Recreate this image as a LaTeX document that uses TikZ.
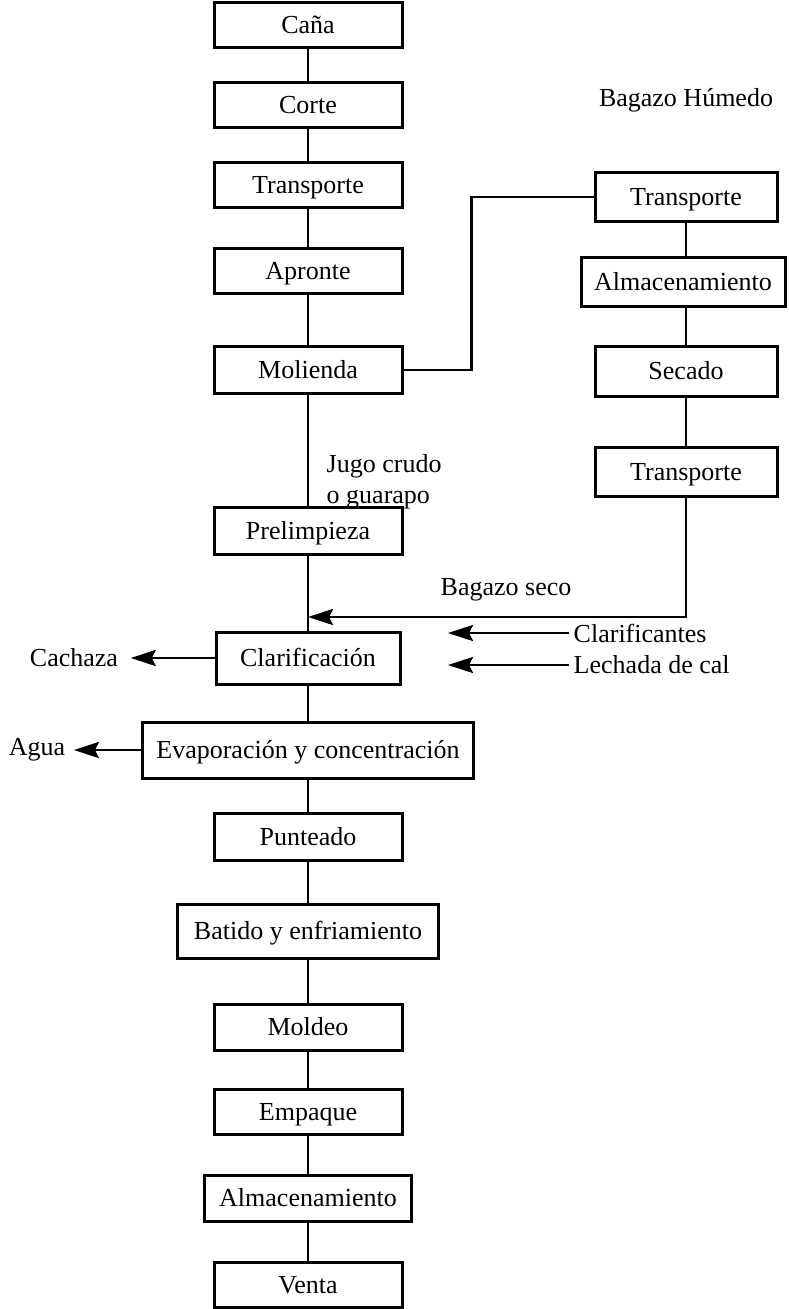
\documentclass[tikz,border=0pt]{standalone}
\usepackage{fontspec}
\setmainfont{Liberation Serif}
\usetikzlibrary{arrows.meta,positioning}

\begin{document}
\begin{tikzpicture}[%
        x=1pt, y=1pt,
        >={Stealth[length=25pt,width=16pt,inset=4pt]},
        node distance=86pt,
        on grid,
        line width=2.8pt,
        font=\fontsize{26}{31}\selectfont,
        box/.style={draw, line width=3pt, minimum width=188pt, minimum height=45pt,
                    inner sep=0pt, text height=18pt, text depth=1.5pt}
        ]

        \useasboundingbox (0,0) rectangle (788,-1309);

        % main line
        \node[box] (1) at (308,-25) {Caña};
        \node[box] (2) [below=80pt of 1] {Corte};
        \node[box] (3) [below=80pt of 2] {Transporte};
        \node[box] (4) [below=of 3] {Apronte};
        \node[box, minimum height=47pt] (5) [below=99pt of 4] {Molienda};
        \node[box, minimum height=47pt] (6) [below=161pt of 5] {Prelimpieza};
        \node[box, minimum width=184pt, minimum height=52pt] (7) [below=127pt of 6] {Clarificación};
        \node[box, minimum width=331pt, minimum height=56pt] (8) [below=92pt of 7] {Evaporación y concentración};
        \node[box, minimum height=47pt] (9) [below=87pt of 8] {Punteado};
        \node[box, minimum width=261pt, minimum height=54pt] (10) [below=94pt of 9] {Batido y enfriamiento};
        \node[box, minimum height=46pt] (11) [below=96pt of 10] {Moldeo};
        \node[box] (12) [below=85pt of 11] {Empaque};
        \node[box, minimum width=207pt, minimum height=46pt] (13) [below=of 12] {Almacenamiento};
        \node[box] (14) [below=87pt of 13] {Venta};

        % bagasse line
        \node[box, minimum width=182pt, minimum height=49pt] (b1) at (686,-197) {Transporte};
        \node[box, minimum width=204pt, minimum height=49pt] (b2) [below=85pt of b1, xshift=-3pt] {Almacenamiento};
        \node[box, minimum width=182pt, minimum height=50pt] (b3) [below=174pt of b1] {Secado};
        \node[box, minimum width=182pt, minimum height=49pt] (b4) [below=101pt of b3] {Transporte};
        \node (bh) [above=97pt of b1] {Bagazo Húmedo};

        % side labels
        \node (jugo) [anchor=west, align=left] at (322,-482) {Jugo crudo\\o guarapo};
        \node (bseco) at (506,-590) {Bagazo seco};
        \node (cach) [left=234pt of 7] {Cachaza};
        \node (agua) [left=271pt of 8] {Agua};
        \node (clar) [anchor=west] at (569,-633) {Clarificantes};
        \node (lech) [anchor=west] at (569,-665) {Lechada de cal};

        \coordinate (join) at (308,-617);
        \coordinate (ct) at (448,-633);
        \coordinate (lt) at (448,-665);

        \foreach \a/\b in {1/2,2/3,3/4,4/5,5/6,6/7,7/8,8/9,9/10,10/11,11/12,12/13,13/14}
            \draw (\a) -- (\b);
        \draw (b1) -- (b1 |- b2.north);
        \draw (b3) -- (b3 |- b2.south);
        \draw (b3) -- (b4);

        \draw (5.east) -- ++(68,0) |- (b1.west);
        \draw[->] (b4.south) |- (join);
        \draw[->, shorten >=8pt] (7.west) -- (cach.east);
        \draw[->, shorten >=4pt] (8.west) -- (agua.east);
        \draw[->] (clar.west) -- (ct);
        \draw[->] (lech.west) -- (lt);

        \end{tikzpicture}
\end{document}
